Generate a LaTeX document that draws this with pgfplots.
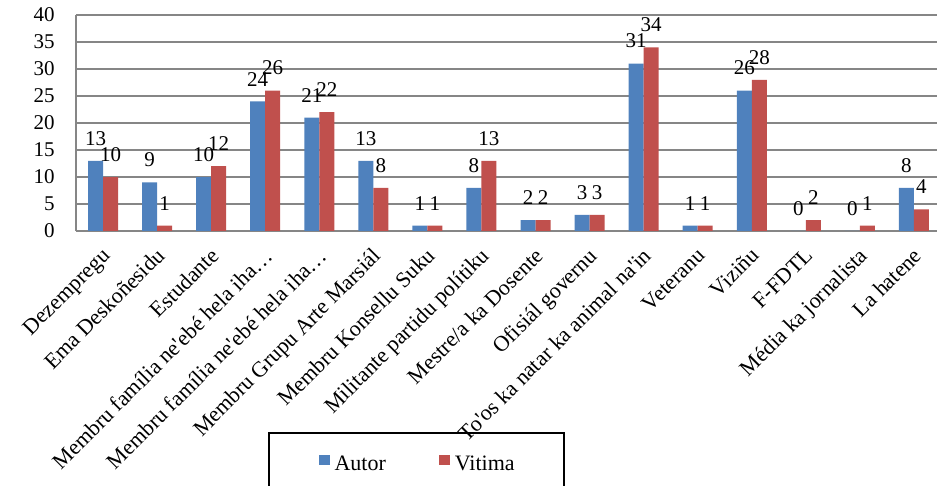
\documentclass[border=0pt]{standalone}
\usepackage{fontspec}
\setmainfont{Liberation Serif}
\usepackage{pgfplots}
\pgfplotsset{compat=1.18}
\definecolor{autor}{RGB}{79,129,189}
\definecolor{vitima}{RGB}{192,80,77}
\definecolor{gridc}{RGB}{134,134,134}
\newcommand{\lbl}{\fontsize{10.5}{12}\selectfont}
\newcommand{\cat}{\fontsize{11}{13}\selectfont}
\newcommand{\q}{\textquotesingle}
\begin{document}
\lbl
\begin{tikzpicture}
\begin{axis}[
    scale only axis,
    width=432.5pt,
    height=108pt,
    ybar=0pt,
    bar width=7.5pt,
    ymin=0, ymax=40,
    ytick={0,5,...,40},
    xmin=-0.5, xmax=15.5,
    xtick=data,
    xticklabels={Dezempregu,Ema Deskoñesidu,Estudante,Membru família ne\q ebé hela iha…,Membru família ne\q ebé hela iha…,Membru Grupu Arte Marsiál,Membru Konsellu Suku,Militante partidu polítiku,Mestre/a ka Dosente,Ofisiál governu,To\q os ka natar ka animal na\q in,Veteranu,Viziñu,F-FDTL,Média ka jornalista,La hatene},
    major tick length=0pt,
    axis lines=left,
    axis line style={gridc, line width=0.75pt, -},
    ymajorgrids,
    grid style={gridc, line width=0.75pt},
    /pgf/number format/assume math mode=true,
    yticklabel style={font=\lbl, anchor=east, inner sep=0pt, xshift=-10.5pt},
    xticklabel style={font=\cat, inner sep=0pt, anchor=north east, xshift=-1pt, yshift=-7.5pt, rotate=45},
    nodes near coords,
    every node near coord/.append style={font=\lbl, anchor=south, inner sep=0pt, yshift=7.5pt},
    clip=false,
    legend style={at={(axis description cs:0.222,-0.9306)}, anchor=north west,
        draw=black, fill=none, line width=1pt, inner xsep=24.75pt, inner ysep=10.75pt,
        font=\cat, nodes={inner sep=0pt},
        /tikz/every odd column/.append style={column sep=2.5pt},
        /tikz/every even column/.append style={column sep=26.5pt}},
    legend columns=2,
    legend image code/.code={\fill[#1] (0pt,0pt) rectangle (5.5pt,5pt);},
]
\addplot[fill=autor, draw=none] coordinates {
(0,13) (1,9) (2,10) (3,24) (4,21) (5,13) (6,1) (7,8)
(8,2) (9,3) (10,31) (11,1) (12,26) (13,0) (14,0) (15,8)
};
\addplot[fill=vitima, draw=none] coordinates {
(0,10) (1,1) (2,12) (3,26) (4,22) (5,8) (6,1) (7,13)
(8,2) (9,3) (10,34) (11,1) (12,28) (13,2) (14,1) (15,4)
};
\legend{Autor,Vitima}
\end{axis}
\pgfresetboundingbox
\useasboundingbox (-38pt,-127.5pt) rectangle (430.5pt,115.5pt);
\end{tikzpicture}
\end{document}
